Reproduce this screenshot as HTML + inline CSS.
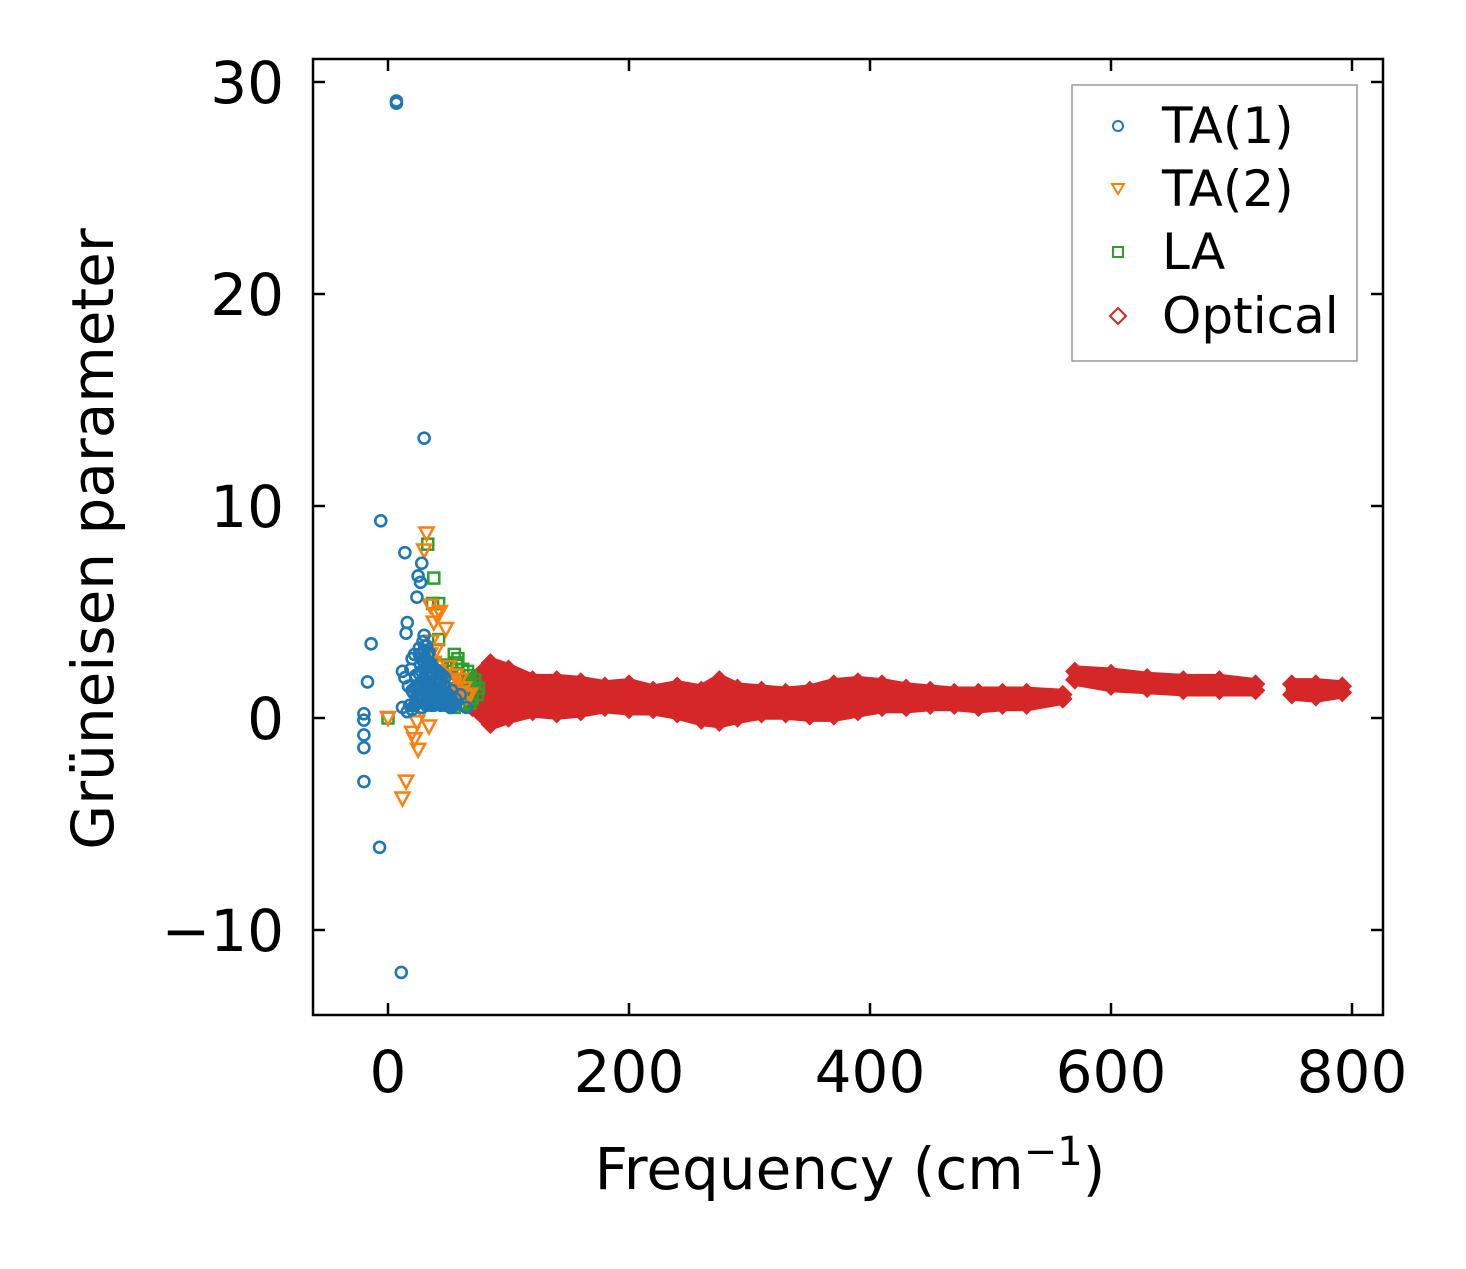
<!DOCTYPE html>
<html><head><meta charset="utf-8"><style>
html,body{margin:0;padding:0;background:#fff;}
svg text{font-family:"DejaVu Sans","Liberation Sans",sans-serif;}
</style></head><body>
<svg id="chart" width="1466" height="1264" xmlns="http://www.w3.org/2000/svg">
<rect width="1466" height="1264" fill="#fff"/>
<g id="marks"></g>
<rect x="313" y="59" width="1070" height="956" fill="none" stroke="#000" stroke-width="2.5"/>
<g id="ticks"></g>
<text x="0" y="0" transform="translate(113,539) rotate(-90)" text-anchor="middle" font-size="58">Grüneisen parameter</text>
<text x="850" y="1189" text-anchor="middle" font-size="58">Frequency (cm<tspan dy="-24" font-size="40">−1</tspan><tspan dy="24">)</tspan></text>
<g>
<rect x="1072" y="85" width="285" height="276" fill="#fff" stroke="#999" stroke-width="1.5"/>
<circle cx="1118" cy="126" r="5" fill="none" stroke="#1f77b4" stroke-width="2"/>
<text x="1162" y="143" font-size="50">TA(1)</text>
<path d="M1112,184 L1124,184 L1118,194 Z" fill="none" stroke="#ff7f0e" stroke-width="2"/>
<text x="1162" y="206" font-size="50">TA(2)</text>
<rect x="1113" y="247" width="10" height="10" fill="none" stroke="#2ca02c" stroke-width="2"/>
<text x="1162" y="269" font-size="50">LA</text>
<path d="M1118,308 L1126,316 L1118,324 L1110,316 Z" fill="none" stroke="#d62728" stroke-width="2"/>
<text x="1162" y="333" font-size="50">Optical</text>
</g>
</svg>
<script>
const xTicks=[0,200,400,600,800];
const yTicks=[-10,0,10,20,30];
const yTickLabels=["−10","0","10","20","30"];
const ta1F=[7,7,-6,14,-14,-17,-20,-20,-20,-20,-20,-7,11,30,25,28,27,24,16,15,30,20,22,26,29,31,33,35,12,14,17,19,21,23,25,27,29,31,33,35,37,39,41,43,45,47,50,53,56,60,18,24,28,32,36,40,44,48,52,26,30,34,20,25,35,42,55,65,12,16,
 22,24,26,28,30,32,34,36,38,40,42,44,46,48,50,52,54,20,22,24,26,28,30,32,34,36,38,40,42,44,46,48,50,26,28,30,32,34,36,38,40,42,44,29,31,33,35,37,39,41,43,45,47,30,32,34];
const ta1G=[29,29.1,9.3,7.8,3.5,1.7,0.2,-0.1,-0.8,-1.4,-3,-6.1,-12,13.2,6.7,7.3,6.4,5.7,4.5,4.0,3.9,2.8,3.0,3.3,3.6,3.4,3.0,2.6,2.2,1.9,1.5,2.3,1.2,2.0,1.1,2.5,1.8,1.3,2.2,1.6,1.0,1.8,1.2,2.1,1.0,1.5,0.8,1.3,0.9,1.1,0.6,0.7,0.5,0.8,0.6,0.9,0.7,0.8,0.5,3.0,2.6,2.4,0.4,1.0,1.4,0.9,0.6,0.5,0.5,0.3,
 0.6,0.7,0.8,0.9,0.7,0.6,0.8,0.7,0.6,0.8,0.7,0.6,0.7,0.6,0.8,0.7,0.6,1.3,1.4,1.5,1.6,1.5,1.4,1.6,1.5,1.3,1.4,1.3,1.2,1.3,1.1,1.2,1.1,2.1,2.2,2.3,2.1,2.0,1.9,2.0,1.9,1.8,1.7,2.7,2.8,2.6,2.5,2.4,2.3,2.2,2.1,2.0,1.9,3.2,3.4,3.1];
const ta2F=[32,30,35,40,38,43,48,35,20,22,25,15,12,0,34,38,42,46,50,55,60,65,30,33,37,41,45,52,58,63,68,28,24,44,48,52,56,60,40,36];
const ta2G=[8.7,7.9,5.3,4.9,4.5,5.0,4.2,3.0,-0.7,-1.0,-1.5,-3,-3.8,0,-0.4,2.6,2.2,1.9,2.4,1.6,1.2,1.0,2.8,2.0,1.4,1.1,0.8,1.7,0.9,1.4,1.1,0.3,-0.2,1.6,1.3,1.0,2.0,1.8,3.2,3.6];
const laF=[33,38,37,42,42,55,58,0,45,48,50,52,55,58,60,62,65,68,70,72,75,50,55,60,65,70,47,53,57,62,66,72,74,64,68];
const laG=[8.2,6.6,5.4,5.4,3.7,3.0,2.8,0,2.5,2.2,1.9,2.4,1.6,2.1,1.3,1.8,1.5,2.0,1.2,1.6,1.4,0.8,0.5,0.7,1.0,0.9,1.2,1.1,2.6,2.3,2.2,1.8,1.1,0.6,0.7];
const optF=[70,85,100,120,140,160,180,200,220,240,260,275,290,310,330,350,370,390,410,430,450,470,490,510,530,560,570,600,630,660,690,720,750,770,792];
const optHi=[1.8,2.6,2.3,1.8,1.8,1.7,1.5,1.6,1.3,1.5,1.3,1.8,1.4,1.3,1.2,1.3,1.6,1.7,1.6,1.4,1.3,1.2,1.2,1.2,1.2,1.1,2.2,2.1,1.9,1.8,1.8,1.6,1.6,1.6,1.5];
const optLo=[0.5,-0.3,0.0,0.3,0.2,0.3,0.5,0.4,0.4,0.2,-0.1,-0.2,0.0,0.2,0.2,0.1,0.1,0.3,0.5,0.5,0.6,0.6,0.5,0.6,0.6,0.9,1.8,1.5,1.4,1.3,1.3,1.3,1.1,1.0,1.2];
const optSeg=[0,0,0,0,0,0,0,0,0,0,0,0,0,0,0,0,0,0,0,0,0,0,0,0,0,0,1,1,1,1,1,1,2,2,2];

const X=f=>388+(f-0)*1.205;
const Y=g=>718-g*21.2;
const NS="http://www.w3.org/2000/svg";
const marks=document.getElementById('marks');
const ticks=document.getElementById('ticks');
function mk(tag,attrs,parent){const e=document.createElementNS(NS,tag);for(const k in attrs)e.setAttribute(k,attrs[k]);parent.appendChild(e);return e;}

xTicks.forEach((t,i)=>{const x=X(t);
 const a=mk('line',{x1:x,x2:x,y1:1015,y2:1003,stroke:'#000','stroke-width':2.5},ticks);
 
 
 const b=mk('line',{x1:x,x2:x,y1:59,y2:71,stroke:'#000','stroke-width':2.5},ticks);
 
 
 const t2=mk('text',{x:x,y:1092,'text-anchor':'middle','font-size':58},ticks);t2.textContent=String(t);
 
 
});
yTicks.forEach((t,i)=>{const y=Y(t);
 const a=mk('line',{x1:313,x2:325,y1:y,y2:y,stroke:'#000','stroke-width':2.5},ticks);
 
 
 const b=mk('line',{x1:1371,x2:1383,y1:y,y2:y,stroke:'#000','stroke-width':2.5},ticks);
 
 
 const t2=mk('text',{x:284,y:y+21,'text-anchor':'end','font-size':58},ticks);t2.textContent=yTickLabels[i];
 
 
});

const red='#d62728';
[0,1,2].forEach(s=>{
 const idx=optF.map((f,i)=>i).filter(i=>optSeg[i]===s);
 const pts=idx.map(i=>X(optF[i])+','+Y(optHi[i])).concat(idx.slice().reverse().map(i=>X(optF[i])+','+Y(optLo[i])));
 const p=mk('polygon',{points:pts.join(' '),fill:red,stroke:red,'stroke-width':12,'stroke-linejoin':'round'},marks);
 
 
});
optF.forEach((f,i)=>{[optHi[i],optLo[i]].forEach(g=>{const x=X(f),y=Y(g);
 const d=mk('path',{d:`M${x},${y-8} L${x+8},${y} L${x},${y+8} L${x-8},${y} Z`,fill:'none',stroke:red,'stroke-width':2.5},marks);
 
 
});});

laF.forEach((f,i)=>{const x=X(f),y=Y(laG[i]);
 const r=mk('rect',{x:x-5.5,y:y-5.5,width:11,height:11,fill:'none',stroke:'#2ca02c','stroke-width':2.5},marks);
 
 
});
ta2F.forEach((f,i)=>{const x=X(f),y=Y(ta2G[i]);
 const t=mk('path',{d:`M${x-7},${y-6} L${x+7},${y-6} L${x},${y+7} Z`,fill:'none',stroke:'#ff7f0e','stroke-width':2.5},marks);
 
 
});
ta1F.forEach((f,i)=>{const x=X(f),y=Y(ta1G[i]);
 const c=mk('circle',{cx:x,cy:y,r:5.5,fill:'none',stroke:'#1f77b4','stroke-width':2.6},marks);
 
 
});
</script>
</body></html>
